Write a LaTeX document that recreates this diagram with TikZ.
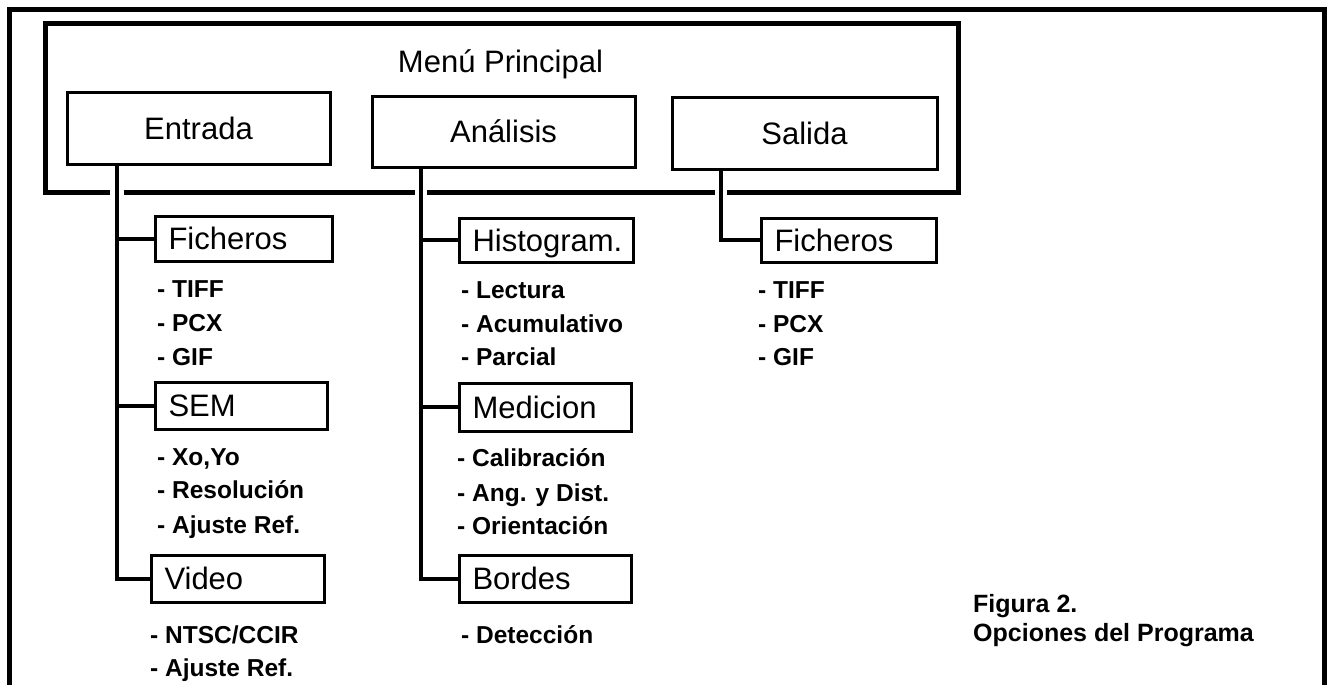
\documentclass[tikz,border=0pt]{standalone}
\usepackage{fontspec}
\setmainfont{Liberation Sans}
\begin{document}
\begin{tikzpicture}[x=1pt,y=-1pt,
  lbl/.style={font=\fontsize{31}{37}\selectfont, text height=22.2pt, text depth=0pt, inner sep=0pt},
  topbox/.style={lbl, draw, line width=3pt},
  subbox/.style={lbl, draw, line width=3pt, anchor=west, align=left, inner xsep=13pt, inner ysep=0pt},
  item/.style={anchor=base west, font=\fontsize{24.5}{29}\selectfont\bfseries, inner sep=0pt},
  figcap/.style={anchor=base west, font=\fontsize{25}{30}\selectfont\bfseries, inner sep=0pt},
  conn/.style={line width=4pt},
  outerframe/.style={line width=5pt},
  mainline/.style={line width=5pt}]
\useasboundingbox (0,0) rectangle (1333,685);
% outer frame (open at the bottom)
\draw[outerframe] (9,690) -- (9,10) -- (1324,10) -- (1324,690);
% main menu box
\node[lbl] (menu) at (500.5,61) {Menú Principal};
\coordinate (mTL) at (45,24);
\coordinate (mBR) at (958,192);
\coordinate (eTrunk) at (117,0);
\coordinate (aTrunk) at (421,0);
\coordinate (sTrunk) at (721,0);
\draw[mainline] (110,192) -- (mTL |- mBR) -- (mTL) -- (mTL -| mBR) -- (mBR) -- (727,192);
\draw[mainline] (124,192) -- (415,192);
\draw[mainline] (427,192) -- (715,192);
% top level boxes
\node[topbox, minimum width=263pt, minimum height=72pt] (entrada) at (198.5,128) {Entrada};
\node[topbox, minimum width=263pt, minimum height=71pt] (analisis) at (503.5,131.5) {Análisis};
\node[topbox, minimum width=265pt, minimum height=72pt] (salida) at (804.5,133) {Salida};
% Entrada sub boxes
\node[subbox, minimum width=177pt, minimum height=45pt, text width=151pt] (ficE) at (154,238.5) {Ficheros};
\node[subbox, minimum width=172pt, minimum height=47pt, text width=146pt] (sem) at (154,405.5) {SEM};
\node[subbox, minimum width=173pt, minimum height=47pt, text width=147pt] (vid) at (150,578.5) {Video};
% Analisis sub boxes
\node[subbox, minimum width=174pt, minimum height=44pt, text width=148pt] (his) at (458,240) {Histogram.};
\node[subbox, minimum width=172pt, minimum height=48pt, text width=146pt] (med) at (458,407) {Medicion};
\node[subbox, minimum width=172pt, minimum height=47pt, text width=146pt] (bor) at (458,578.5) {Bordes};
% Salida sub box
\node[subbox, minimum width=175pt, minimum height=44pt, text width=149pt] (ficS) at (760,240) {Ficheros};
% connectors
\draw[conn] (entrada.south -| eTrunk) |- (vid.west);
\draw[conn] (ficE.west -| eTrunk) -- (ficE.west);
\draw[conn] (sem.west -| eTrunk) -- (sem.west);
\draw[conn] (analisis.south -| aTrunk) |- (bor.west);
\draw[conn] (his.west -| aTrunk) -- (his.west);
\draw[conn] (med.west -| aTrunk) -- (med.west);
\draw[conn] (salida.south -| sTrunk) |- (ficS.west);
% items
\node[item] (e11) at (157,297.8) {- TIFF};
\node[item] (e12) at (157,331.8) {- PCX};
\node[item] (e13) at (157,365.8) {- GIF};
\node[item] (e21) at (157,465.8) {- Xo,Yo};
\node[item] (e22) at (157,498.8) {- Resolución};
\node[item] (e23) at (157,533.8) {- Ajuste Ref.};
\node[item] (e31) at (150,643.8) {- NTSC/CCIR};
\node[item] (e32) at (150,676.8) {- Ajuste Ref.};
\node[item] (a11) at (461,298.8) {- Lectura};
\node[item] (a12) at (461,332.8) {- Acumulativo};
\node[item] (a13) at (461,365.8) {- Parcial};
\node[item] (a21) at (457,466.8) {- Calibración};
\node[item] (a22) at (457,501.8) {- Ang. y Dist.};
\node[item] (a23) at (457,534.8) {- Orientación};
\node[item] (a31) at (461,643.8) {- Detección};
\node[item] (s11) at (758,298.8) {- TIFF};
\node[item] (s12) at (758,332.8) {- PCX};
\node[item] (s13) at (758,365.8) {- GIF};
% caption
\node[figcap] (fig) at (973,612) {Figura 2.};
\node[figcap] (opc) at (973,641) {Opciones del Programa};
\end{tikzpicture}
\end{document}
